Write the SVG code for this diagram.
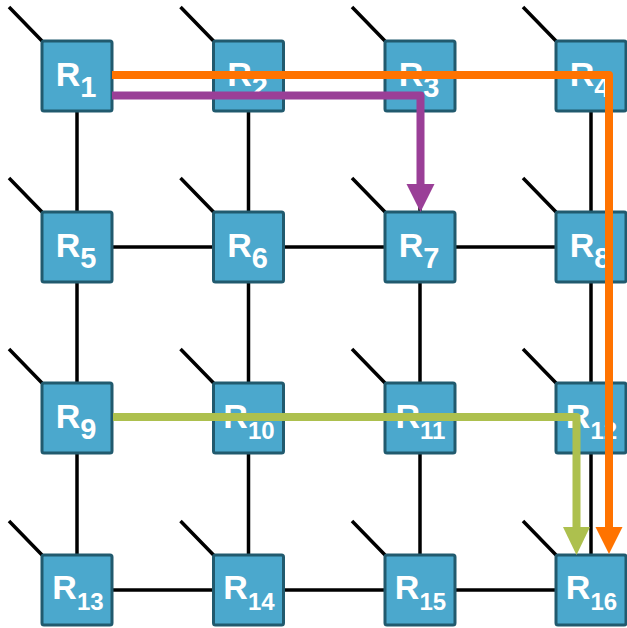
<svg xmlns="http://www.w3.org/2000/svg" width="627" height="628" viewBox="0 0 627 628">
  <style>
    .link { stroke: #000; stroke-width: 3.5; fill: none; }
    .stub { stroke: #000; stroke-width: 3.5; fill: none; }
    .box { fill: #4ba8cd; stroke: #215a6e; stroke-width: 3; }
    .lbl { font-family: "Liberation Sans", Arial, sans-serif; font-weight: bold; fill: #fff; font-size: 34px; }
    .s1 { font-size: 29px; }
    .s2 { font-size: 24px; }
    .route { fill: none; stroke-width: 8; stroke-linejoin: round; stroke-linecap: butt; }
    .orange { stroke: #ff7300; }
    .purple { stroke: #9a3f97; }
    .green { stroke: #adc04e; }
    .head-orange { fill: #ff7300; }
    .head-purple { fill: #9a3f97; }
    .head-green { fill: #adc04e; }
  </style>

  <!-- mesh links: columns x = 77, 248.5, 420, 591; rows y = 76, 247, 418, 590 -->
  <g id="links">
    <line class="link" x1="77" y1="76" x2="591" y2="76"/>
    <line class="link" x1="77" y1="247" x2="591" y2="247"/>
    <line class="link" x1="77" y1="418" x2="591" y2="418"/>
    <line class="link" x1="77" y1="590" x2="591" y2="590"/>
    <line class="link" x1="77" y1="76" x2="77" y2="590"/>
    <line class="link" x1="248.5" y1="76" x2="248.5" y2="590"/>
    <line class="link" x1="420" y1="76" x2="420" y2="590"/>
    <line class="link" x1="591" y1="76" x2="591" y2="590"/>
  </g>

  <!-- local port stubs at each router's top-left corner -->
  <g id="stubs">
    <path class="stub" d="M9 7 L43 42 M180.5 7 L214.5 42 M352 7 L386 42 M523 7 L557 42
                          M9 178 L43 213 M180.5 178 L214.5 213 M352 178 L386 213 M523 178 L557 213
                          M9 349 L43 384 M180.5 349 L214.5 384 M352 349 L386 384 M523 349 L557 384
                          M9 521 L43 556 M180.5 521 L214.5 556 M352 521 L386 556 M523 521 L557 556"/>
  </g>

  <!-- routers -->
  <g id="R1"><rect class="box" x="42" y="41" width="70" height="70" rx="2"/><text class="lbl" x="76" y="85.5" text-anchor="middle">R<tspan class="s1" dy="11">1</tspan></text></g>
  <g id="R2"><rect class="box" x="213.5" y="41" width="70" height="70" rx="2"/><text class="lbl" x="247.5" y="85.5" text-anchor="middle">R<tspan class="s1" dy="11">2</tspan></text></g>
  <g id="R3"><rect class="box" x="385" y="41" width="70" height="70" rx="2"/><text class="lbl" x="419" y="85.5" text-anchor="middle">R<tspan class="s1" dy="11">3</tspan></text></g>
  <g id="R4"><rect class="box" x="556" y="41" width="70" height="70" rx="2"/><text class="lbl" x="590" y="85.5" text-anchor="middle">R<tspan class="s1" dy="11">4</tspan></text></g>

  <g id="R5"><rect class="box" x="42" y="212" width="70" height="70" rx="2"/><text class="lbl" x="76" y="256.5" text-anchor="middle">R<tspan class="s1" dy="11">5</tspan></text></g>
  <g id="R6"><rect class="box" x="213.5" y="212" width="70" height="70" rx="2"/><text class="lbl" x="247.5" y="256.5" text-anchor="middle">R<tspan class="s1" dy="11">6</tspan></text></g>
  <g id="R7"><rect class="box" x="385" y="212" width="70" height="70" rx="2"/><text class="lbl" x="419" y="256.5" text-anchor="middle">R<tspan class="s1" dy="11">7</tspan></text></g>
  <g id="R8"><rect class="box" x="556" y="212" width="70" height="70" rx="2"/><text class="lbl" x="590" y="256.5" text-anchor="middle">R<tspan class="s1" dy="11">8</tspan></text></g>

  <g id="R9"><rect class="box" x="42" y="383" width="70" height="70" rx="2"/><text class="lbl" x="76" y="427.5" text-anchor="middle">R<tspan class="s1" dy="11">9</tspan></text></g>
  <g id="R10"><rect class="box" x="213.5" y="383" width="70" height="70" rx="2"/><text class="lbl" x="249" y="427.5" text-anchor="middle">R<tspan class="s2" dy="11">10</tspan></text></g>
  <g id="R11"><rect class="box" x="385" y="383" width="70" height="70" rx="2"/><text class="lbl" x="420.5" y="427.5" text-anchor="middle">R<tspan class="s2" dy="11">11</tspan></text></g>
  <g id="R12"><rect class="box" x="556" y="383" width="70" height="70" rx="2"/><text class="lbl" x="591.5" y="427.5" text-anchor="middle">R<tspan class="s2" dy="11">12</tspan></text></g>

  <g id="R13"><rect class="box" x="42" y="555" width="70" height="70" rx="2"/><text class="lbl" x="78" y="598.5" text-anchor="middle">R<tspan class="s2" dy="11">13</tspan></text></g>
  <g id="R14"><rect class="box" x="213.5" y="555" width="70" height="70" rx="2"/><text class="lbl" x="249" y="598.5" text-anchor="middle">R<tspan class="s2" dy="11">14</tspan></text></g>
  <g id="R15"><rect class="box" x="385" y="555" width="70" height="70" rx="2"/><text class="lbl" x="420.5" y="598.5" text-anchor="middle">R<tspan class="s2" dy="11">15</tspan></text></g>
  <g id="R16"><rect class="box" x="556" y="555" width="70" height="70" rx="2"/><text class="lbl" x="591.5" y="598.5" text-anchor="middle">R<tspan class="s2" dy="11">16</tspan></text></g>

  <!-- routed packets -->
  <g id="connectors">
    <path class="route orange" d="M112 75 L609 75 L609 528"/>
    <polygon class="head-orange" points="595.5,527 622.5,527 609,554"/>
    <path class="route purple" d="M112 95.5 L420.5 95.5 L420.5 185"/>
    <polygon class="head-purple" points="406.5,184 434.5,184 420.5,212"/>
    <path class="route green" d="M113 417 L576.5 417 L576.5 528"/>
    <polygon class="head-green" points="563,527 590,527 576.5,555"/>
  </g>
</svg>
